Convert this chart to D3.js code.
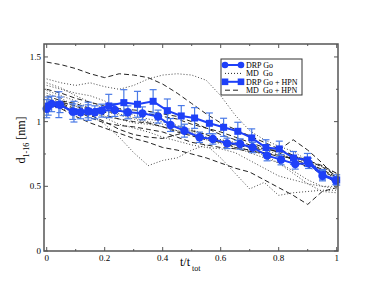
<!DOCTYPE html>
<html>
<head>
<meta charset="utf-8">
<script src="https://cdn.jsdelivr.net/npm/d3@7"></script>
<style>
  body { margin: 0; background: #fff; }
  svg { display: block; font-family: 'Liberation Serif', 'DejaVu Serif', serif; }
</style>
</head>
<body>
<svg></svg>
<script>
// DRP Go (circles)
const drpX = [0, 0.017, 0.046, 0.09, 0.117, 0.143, 0.166, 0.19, 0.235, 0.28, 0.33, 0.384, 0.427, 0.475, 0.527, 0.573, 0.622, 0.667, 0.71, 0.76, 0.808, 0.857, 0.903, 0.951, 0.997]
const drpY = [1.10, 1.137, 1.13, 1.077, 1.072, 1.08, 1.072, 1.085, 1.09, 1.072, 1.064, 1.039, 0.974, 0.93, 0.879, 0.866, 0.832, 0.827, 0.80, 0.737, 0.706, 0.673, 0.678, 0.582, 0.544]
const drpErr = [0.07, 0.06, 0.06, 0.06, 0.05, 0.05, 0.05, 0.05, 0.05, 0.05, 0.05, 0.05, 0.05, 0.05, 0.04, 0.04, 0.04, 0.04, 0.04, 0.04, 0.04, 0.04, 0.04, 0.04, 0.03]

// DRP Go + HPN (squares)
const hpnX = [0.005, 0.042, 0.094, 0.143, 0.214, 0.266, 0.313, 0.367, 0.416, 0.464, 0.51, 0.561, 0.61, 0.659, 0.707, 0.756, 0.802, 0.851, 0.899, 0.951, 1.0]
const hpnY = [1.12, 1.131, 1.077, 1.08, 1.121, 1.147, 1.134, 1.157, 1.085, 1.044, 1.028, 0.987, 0.956, 0.925, 0.874, 0.80, 0.789, 0.719, 0.704, 0.59, 0.549]
const hpnErr = [0.07, 0.10, 0.08, 0.07, 0.09, 0.10, 0.10, 0.09, 0.09, 0.08, 0.08, 0.08, 0.07, 0.07, 0.07, 0.06, 0.06, 0.05, 0.05, 0.04, 0.04]

// MD trajectories share one time grid
const mdT = [0, 0.05, 0.1, 0.15, 0.2, 0.25, 0.3, 0.35, 0.4, 0.45, 0.5, 0.55, 0.6, 0.65, 0.7, 0.75, 0.8, 0.85, 0.9, 0.95, 1]

// MD Go (dotted)
const mdGo = [
  [1.33, 1.30, 1.28, 1.30, 1.27, 1.25, 1.28, 1.33, 1.36, 1.37, 1.36, 1.32, 1.20, 1.05, 0.93, 0.86, 0.81, 0.77, 0.70, 0.62, 0.55],
  [1.22, 1.18, 1.12, 1.05, 0.98, 0.88, 0.76, 0.66, 0.70, 0.72, 0.78, 0.82, 0.72, 0.60, 0.48, 0.53, 0.43, 0.45, 0.46, 0.47, 0.47],
  [1.28, 1.25, 1.22, 1.20, 1.16, 1.10, 1.05, 1.02, 1.00, 0.97, 0.92, 0.88, 0.84, 0.80, 0.76, 0.72, 0.68, 0.62, 0.55, 0.50, 0.48],
  [1.18, 1.15, 1.12, 1.10, 1.08, 1.05, 1.02, 0.99, 0.96, 0.93, 0.90, 0.86, 0.83, 0.80, 0.78, 0.74, 0.68, 0.60, 0.52, 0.46, 0.45],
  [1.30, 1.26, 1.20, 1.15, 1.10, 1.06, 1.03, 1.00, 0.98, 0.96, 0.94, 0.90, 0.86, 0.83, 0.80, 0.78, 0.75, 0.72, 0.68, 0.63, 0.57],
  [1.13, 1.10, 1.08, 1.06, 1.04, 1.02, 0.99, 0.98, 0.96, 0.93, 0.90, 0.88, 0.86, 0.84, 0.81, 0.79, 0.77, 0.74, 0.70, 0.65, 0.60],
  [1.24, 1.20, 1.16, 1.10, 1.03, 0.98, 0.95, 0.92, 0.88, 0.85, 0.82, 0.80, 0.79, 0.76, 0.70, 0.64, 0.58, 0.55, 0.52, 0.50, 0.50]
]

// MD Go + HPN (dashed)
const mdHpn = [
  [1.46, 1.44, 1.41, 1.37, 1.34, 1.37, 1.36, 1.34, 1.29, 1.22, 1.14, 1.06, 0.99, 0.94, 0.89, 0.84, 0.79, 0.74, 0.68, 0.63, 0.57],
  [1.14, 1.10, 1.04, 0.99, 0.95, 0.91, 0.87, 0.84, 0.80, 0.78, 0.75, 0.72, 0.68, 0.64, 0.61, 0.55, 0.49, 0.43, 0.36, 0.46, 0.49],
  [1.12, 1.14, 1.10, 1.05, 1.00, 0.94, 0.90, 0.88, 0.87, 0.90, 0.93, 0.90, 0.85, 0.80, 0.78, 0.76, 0.74, 0.71, 0.67, 0.62, 0.56],
  [1.25, 1.22, 1.18, 1.15, 1.12, 1.10, 1.09, 1.08, 1.06, 1.04, 1.00, 0.95, 0.90, 0.86, 0.82, 0.79, 0.77, 0.74, 0.70, 0.65, 0.58],
  [1.10, 1.13, 1.09, 1.03, 0.99, 0.97, 0.96, 0.94, 0.92, 0.88, 0.84, 0.82, 0.80, 0.79, 0.77, 0.76, 0.73, 0.72, 0.70, 0.66, 0.60],
  [1.20, 1.16, 1.14, 1.10, 1.05, 1.02, 1.00, 0.99, 0.96, 0.92, 0.89, 0.86, 0.84, 0.82, 0.80, 0.78, 0.78, 0.86, 0.78, 0.68, 0.56],
  [1.15, 1.15, 1.12, 1.08, 1.07, 1.08, 1.07, 1.06, 1.04, 1.02, 0.98, 0.95, 0.92, 0.88, 0.84, 0.80, 0.76, 0.70, 0.65, 0.60, 0.52]
]

const xTicks = [0, 0.2, 0.4, 0.6, 0.8, 1]
const xTickLabels = ['0', '0.2', '0.4', '0.6', '0.8', '1']
const yTicks = [0, 0.5, 1, 1.5]
const yTickLabels = ['0', '0.5', '1', '1.5']
const xMinor = [0.1, 0.3, 0.5, 0.7, 0.9]
const yMinor = [0.25, 0.75, 1.25]

const legendNames = ['DRP Go', 'MD  Go', 'DRP Go + HPN', 'MD  Go + HPN']

const w = 382
const h = 295
const padLeft = 44
const padRight = 338
const padTop = 44
const padBottom = 251

const blue = '#1e40f8'
const errBlue = '#4a7ae6'

const svg = d3.select('svg')
  .attr('width', w)
  .attr('height', h)

const xScale = d3.scaleLinear().domain([-0.0093, 1.0045]).range([padLeft, padRight])
const yScale = d3.scaleLinear().domain([0, 1.6]).range([padBottom, padTop])

const plot = svg.append('g')

// black MD curves
const mdLine = d3.line()
  .x((d, i) => xScale(mdT[i]))
  .y(d => yScale(d))

plot.selectAll('.md-go')
  .data(mdGo)
  .enter()
  .append('path')
  .attr('d', mdLine)
  .attr('fill', 'none')
  .attr('stroke', '#333')
  .attr('stroke-width', 0.9)
  .attr('stroke-dasharray', '1,2')

plot.selectAll('.md-hpn')
  .data(mdHpn)
  .enter()
  .append('path')
  .attr('d', mdLine)
  .attr('fill', 'none')
  .attr('stroke', '#222')
  .attr('stroke-width', 1)
  .attr('stroke-dasharray', '5,3')

// error bars
const drawErr = (xs, ys, es) => {
  const g = plot.append('g').attr('stroke', errBlue).attr('stroke-width', 1.2)
  xs.forEach((x, i) => {
    const cx = xScale(x)
    const y1 = yScale(ys[i] + es[i])
    const y2 = yScale(ys[i] - es[i])
    g.append('line').attr('x1', cx).attr('x2', cx).attr('y1', y1).attr('y2', y2)
    g.append('line').attr('x1', cx - 3.5).attr('x2', cx + 3.5).attr('y1', y1).attr('y2', y1)
    g.append('line').attr('x1', cx - 3.5).attr('x2', cx + 3.5).attr('y1', y2).attr('y2', y2)
  })
}
drawErr(hpnX, hpnY, hpnErr)
drawErr(drpX, drpY, drpErr)

const blueLine = (xs, ys) => d3.line()
  .x((d, i) => xScale(xs[i]))
  .y(d => yScale(d))(ys)

plot.append('path')
  .attr('d', blueLine(hpnX, hpnY))
  .attr('fill', 'none')
  .attr('stroke', blue)
  .attr('stroke-width', 2)

plot.selectAll('.sq')
  .data(hpnY)
  .enter()
  .append('rect')
  .attr('x', (d, i) => xScale(hpnX[i]) - 3.5)
  .attr('y', d => yScale(d) - 3.5)
  .attr('width', 7)
  .attr('height', 7)
  .attr('fill', blue)

plot.append('path')
  .attr('d', blueLine(drpX, drpY))
  .attr('fill', 'none')
  .attr('stroke', blue)
  .attr('stroke-width', 2)

plot.selectAll('.circ')
  .data(drpY)
  .enter()
  .append('circle')
  .attr('cx', (d, i) => xScale(drpX[i]))
  .attr('cy', d => yScale(d))
  .attr('r', 4.2)
  .attr('fill', blue)

// frame + ticks (inward, all four sides)
const axisColor = '#555'
const ticks = svg.append('g').attr('stroke', axisColor).attr('stroke-width', 1)
xTicks.forEach(t => {
  const x = xScale(t)
  ticks.append('line').attr('x1', x).attr('x2', x).attr('y1', padBottom).attr('y2', padBottom - 4)
  ticks.append('line').attr('x1', x).attr('x2', x).attr('y1', padTop).attr('y2', padTop + 4)
})
xMinor.forEach(t => {
  const x = xScale(t)
  ticks.append('line').attr('x1', x).attr('x2', x).attr('y1', padBottom).attr('y2', padBottom - 2)
  ticks.append('line').attr('x1', x).attr('x2', x).attr('y1', padTop).attr('y2', padTop + 2)
})
yTicks.forEach(t => {
  const y = yScale(t)
  ticks.append('line').attr('x1', padLeft).attr('x2', padLeft + 4).attr('y1', y).attr('y2', y)
  ticks.append('line').attr('x1', padRight).attr('x2', padRight - 4).attr('y1', y).attr('y2', y)
})
yMinor.forEach(t => {
  const y = yScale(t)
  ticks.append('line').attr('x1', padLeft).attr('x2', padLeft + 2).attr('y1', y).attr('y2', y)
  ticks.append('line').attr('x1', padRight).attr('x2', padRight - 2).attr('y1', y).attr('y2', y)
})

svg.append('rect')
  .attr('x', padLeft)
  .attr('y', padTop)
  .attr('width', padRight - padLeft)
  .attr('height', padBottom - padTop)
  .attr('fill', 'none')
  .attr('stroke', axisColor)
  .attr('stroke-width', 1.5)

// tick labels
svg.selectAll('.xl')
  .data(xTicks)
  .enter()
  .append('text')
  .attr('x', d => xScale(d))
  .attr('y', padBottom + 10)
  .attr('text-anchor', 'middle')
  .style('font-size', '9px')
  .text((d, i) => xTickLabels[i])

svg.selectAll('.yl')
  .data(yTicks)
  .enter()
  .append('text')
  .attr('x', padLeft - 3)
  .attr('y', d => yScale(d) + 3)
  .attr('text-anchor', 'end')
  .style('font-size', '9px')
  .text((d, i) => yTickLabels[i])

// axis labels
const xl = svg.append('text')
  .attr('x', 180)
  .attr('y', 266)
  .style('font-size', '12px')
xl.append('tspan').text('t/t')
xl.append('tspan').attr('dy', 5).attr('dx', 2).style('font-size', '8px').text('tot')

const yl = svg.append('text')
  .attr('transform', 'translate(25, 140) rotate(-90)')
  .attr('text-anchor', 'middle')
  .style('font-size', '12px')
yl.append('tspan').text('d')
yl.append('tspan').attr('dy', 4).style('font-size', '8px').text('1-16')
yl.append('tspan').attr('dy', -4).text(' [nm]')

// legend
const lg = svg.append('g').attr('transform', 'translate(221, 59)')
lg.append('rect')
  .attr('width', 81)
  .attr('height', 36)
  .attr('fill', '#fff')
  .attr('stroke', '#333')
  .attr('stroke-width', 1)

legendNames.forEach((name, i) => {
  const y = 6 + i * 8.4
  const row = lg.append('g')
  if (i === 0 || i === 2) {
    row.append('line').attr('x1', 4).attr('x2', 20).attr('y1', y).attr('y2', y)
      .attr('stroke', blue).attr('stroke-width', 2)
    ;[4, 20].forEach(px => {
      if (i === 0) {
        row.append('circle').attr('cx', px).attr('cy', y).attr('r', 3.3).attr('fill', blue)
      } else {
        row.append('rect').attr('x', px - 3.3).attr('y', y - 3.3).attr('width', 6.6).attr('height', 6.6).attr('fill', blue)
      }
    })
  } else {
    row.append('line').attr('x1', 4).attr('x2', 20).attr('y1', y).attr('y2', y)
      .attr('stroke', '#222').attr('stroke-width', 1)
      .attr('stroke-dasharray', i === 1 ? '1,2' : '5,3')
  }
  row.append('text')
    .attr('x', 25)
    .attr('y', y + 3)
    .style('font-size', '8px')
    .style('white-space', 'pre')
    .text(name)
})
</script>
